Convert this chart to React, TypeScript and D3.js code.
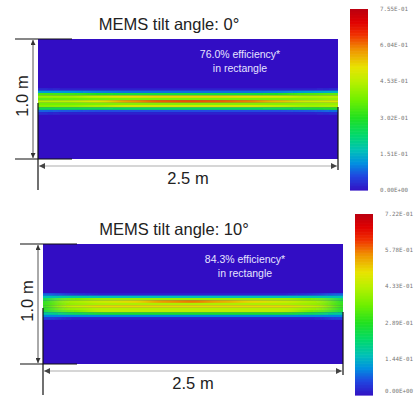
import * as d3 from "d3";

// grid of the light band: column centres along the 2.5 m side, rows by depth from the top edge (m)
const colX = [0, 0.25, 0.5, 0.75, 1.0, 1.25, 1.5, 1.75, 2.0, 2.25, 2.5];
const rowDepth = [0.42, 0.44, 0.46, 0.48, 0.5, 0.52, 0.54, 0.56, 0.58, 0.6, 0.62];

// irradiance, tilt 0°
const band0 = [
  [0.03, 0.02, 0.02, 0.02, 0.02, 0.02, 0.02, 0.02, 0.02, 0.02, 0.03],
  [0.13, 0.12, 0.1, 0.09, 0.09, 0.09, 0.09, 0.09, 0.1, 0.13, 0.15],
  [0.34, 0.33, 0.3, 0.28, 0.28, 0.28, 0.28, 0.28, 0.3, 0.34, 0.36],
  [0.42, 0.42, 0.47, 0.52, 0.53, 0.53, 0.53, 0.52, 0.49, 0.44, 0.45],
  [0.36, 0.37, 0.38, 0.39, 0.39, 0.39, 0.39, 0.39, 0.39, 0.4, 0.42],
  [0.45, 0.46, 0.51, 0.58, 0.62, 0.63, 0.62, 0.6, 0.55, 0.48, 0.5],
  [0.38, 0.38, 0.39, 0.4, 0.4, 0.4, 0.4, 0.4, 0.4, 0.41, 0.42],
  [0.4, 0.41, 0.44, 0.49, 0.49, 0.49, 0.49, 0.49, 0.46, 0.43, 0.44],
  [0.26, 0.26, 0.25, 0.24, 0.24, 0.24, 0.24, 0.24, 0.25, 0.28, 0.3],
  [0.08, 0.07, 0.06, 0.06, 0.06, 0.06, 0.06, 0.06, 0.06, 0.07, 0.09],
  [0.03, 0.02, 0.02, 0.02, 0.02, 0.02, 0.02, 0.02, 0.02, 0.02, 0.03],
];

// irradiance, tilt 10°
const band10 = [
  [0.08, 0.04, 0.02, 0.02, 0.02, 0.02, 0.02, 0.02, 0.02, 0.04, 0.08],
  [0.16, 0.18, 0.16, 0.16, 0.16, 0.16, 0.16, 0.16, 0.16, 0.17, 0.16],
  [0.24, 0.36, 0.4, 0.4, 0.4, 0.4, 0.4, 0.4, 0.4, 0.36, 0.24],
  [0.28, 0.42, 0.46, 0.5, 0.56, 0.58, 0.54, 0.5, 0.46, 0.42, 0.28],
  [0.3, 0.4, 0.42, 0.42, 0.42, 0.42, 0.42, 0.42, 0.42, 0.4, 0.3],
  [0.3, 0.45, 0.5, 0.5, 0.5, 0.5, 0.5, 0.5, 0.5, 0.45, 0.3],
  [0.28, 0.4, 0.43, 0.43, 0.43, 0.43, 0.43, 0.43, 0.43, 0.4, 0.28],
  [0.25, 0.36, 0.44, 0.44, 0.44, 0.44, 0.44, 0.44, 0.44, 0.36, 0.26],
  [0.18, 0.24, 0.28, 0.28, 0.28, 0.28, 0.28, 0.28, 0.28, 0.24, 0.18],
  [0.1, 0.1, 0.1, 0.1, 0.1, 0.1, 0.1, 0.1, 0.1, 0.1, 0.1],
  [0.05, 0.02, 0.02, 0.02, 0.02, 0.02, 0.02, 0.02, 0.02, 0.02, 0.05],
];

// colour bar tick values
const ticks0 = [0, 0.151, 0.302, 0.453, 0.604, 0.755];
const ticks10 = [0, 0.144, 0.289, 0.433, 0.578, 0.722];

// rainbow colour map (fraction of max -> colour)
const stopT = [0, 0.08, 0.15, 0.22, 0.3, 0.4, 0.5, 0.6, 0.68, 0.78, 0.86, 0.93, 1];
const stopC = [
  "#3311c4", "#2048e0", "#0090e0", "#00c0b8", "#00d870", "#20e020", "#70f000",
  "#b8f000", "#e8e400", "#f09000", "#f03000", "#e00000", "#bb0010",
];

const fmtE = (v: number) => {
  const [m, e] = v.toExponential(2).split("e");
  const n = +e;
  return `${m}E${n < 0 ? "-" : "+"}${String(Math.abs(n)).padStart(2, "0")}`;
};

const FONT = "Liberation Sans, Arial, sans-serif";

type PanelProps = {
  id: string;
  ox: number;
  oy: number;
  band: number[][];
  ticks: number[];
  title: string;
  eff: string;
};

const Panel = ({ id, ox, oy, band, ticks, title, eff }: PanelProps) => {
  const vmax = d3.max(ticks) as number;
  const x = d3.scaleLinear().domain([0, 2.5]).range([ox, ox + 300]);
  const y = d3.scaleLinear().domain([0, 1]).range([oy, oy + 120]);
  const color = d3
    .scaleLinear<string>()
    .domain(stopT.map((t) => t * vmax))
    .range(stopC)
    .interpolate(d3.interpolateRgb)
    .clamp(true);

  const halfX = (colX[1] - colX[0]) / 2;
  const halfY = (rowDepth[1] - rowDepth[0]) / 2;
  const cells: { x0: number; x1: number; y0: number; y1: number; v: number }[] = [];
  band.forEach((row, ri) =>
    row.forEach((v, ci) => {
      const x0 = ci === 0 ? x(colX[ci]) - 40 : x(colX[ci] - halfX);
      const x1 = ci === row.length - 1 ? x(colX[ci]) + 40 : x(colX[ci] + halfX);
      cells.push({ x0, x1, y0: y(rowDepth[ri] - halfY), y1: y(rowDepth[ri] + halfY), v });
    })
  );

  // colour bar
  const cbX = ox + 312;
  const cbY = d3.scaleLinear().domain([0, vmax]).range([oy + 151, oy - 30]);
  const steps = d3.range(0, 120).map((i) => (i / 120) * vmax);
  const stepH = (cbY(0) - cbY(vmax)) / 120;

  return (
    <g>
      <defs>
        <clipPath id={`clip-${id}`}>
          <rect x={x(0)} y={y(0)} width={x(2.5) - x(0)} height={y(1) - y(0)} />
        </clipPath>
        <filter
          id={`blur-${id}`}
          filterUnits="userSpaceOnUse"
          x={x(0) - 60}
          y={y(0) - 20}
          width={x(2.5) - x(0) + 120}
          height={y(1) - y(0) + 40}
        >
          <feGaussianBlur stdDeviation="9 0.6" />
        </filter>
      </defs>

      <text x={ox + 131} y={oy - 9.5} textAnchor="middle" fontFamily={FONT} fontSize={16.5} fill="#222">
        {title}
      </text>

      <g clipPath={`url(#clip-${id})`}>
        <g filter={`url(#blur-${id})`}>
          <rect
            x={x(0) - 50}
            y={y(0) - 10}
            width={x(2.5) - x(0) + 100}
            height={y(1) - y(0) + 20}
            fill={color(0)}
          />
          {cells.map((c, i) => (
            <rect key={i} x={c.x0} y={c.y0} width={c.x1 - c.x0 + 0.5} height={c.y1 - c.y0 + 0.2} fill={color(c.v)} />
          ))}
        </g>
      </g>

      <text x={ox + 202} y={oy + 19} textAnchor="middle" fontFamily={FONT} fontSize={10.5} fill="#e6e4ff">
        {eff}
      </text>
      <text x={ox + 202} y={oy + 33} textAnchor="middle" fontFamily={FONT} fontSize={10.5} fill="#e6e4ff">
        in rectangle
      </text>

      {/* height dimension */}
      <line x1={ox - 23} x2={ox + 34} y1={y(0)} y2={y(0)} stroke="#111" strokeWidth={1.2} />
      <line x1={ox - 23} x2={ox + 34} y1={y(1)} y2={y(1)} stroke="#111" strokeWidth={1.2} />
      <line
        x1={ox - 5}
        x2={ox - 5}
        y1={y(0) + 1}
        y2={y(1) - 1}
        stroke="#555"
        strokeWidth={1}
        markerStart="url(#arrV)"
        markerEnd="url(#arrV)"
      />
      <text
        transform={`translate(${ox - 10},${oy + 57}) rotate(-90)`}
        textAnchor="middle"
        fontFamily={FONT}
        fontSize={16.5}
        fill="#222"
      >
        1.0 m
      </text>

      {/* width dimension */}
      <line x1={x(0)} x2={x(0)} y1={oy + 64} y2={oy + 151} stroke="#111" strokeWidth={1.2} />
      <line x1={x(2.5)} x2={x(2.5)} y1={oy + 68} y2={oy + 131} stroke="#111" strokeWidth={1.2} />
      <line
        x1={x(0) + 1}
        x2={x(2.5) - 1}
        y1={oy + 127}
        y2={oy + 127}
        stroke="#c8c8c8"
        strokeWidth={1.5}
        markerStart="url(#arrH)"
        markerEnd="url(#arrH)"
      />
      <text x={ox + 150} y={oy + 145} textAnchor="middle" fontFamily={FONT} fontSize={16.5} fill="#222">
        2.5 m
      </text>

      {/* colour bar */}
      {steps.map((v, i) => (
        <rect key={i} x={cbX} y={cbY(v) - stepH} width={18} height={stepH + 0.6} fill={color(v + vmax / 240)} />
      ))}
      {ticks.map((t) => (
        <text
          key={t}
          x={ox + 342}
          y={Math.min(cbY(t), 390.5)}
          dy="0.35em"
          fontFamily="DejaVu Sans Mono, monospace"
          fontSize={5.8}
          fill="#777"
        >
          {fmtE(t)}
        </text>
      ))}
    </g>
  );
};

export default function App() {
  return (
    <svg
      width={414}
      height={396}
      viewBox="0 0 414 396"
      style={{ position: "absolute", left: 0, top: 0, background: "#fff" }}
    >
      <defs>
        <marker id="arrV" viewBox="0 0 10 10" refX="10" refY="5" markerWidth="5" markerHeight="5" orient="auto-start-reverse">
          <path d="M0,0 L10,5 L0,10 z" fill="#333" />
        </marker>
        <marker id="arrH" viewBox="0 0 10 10" refX="10" refY="5" markerWidth="4" markerHeight="4" orient="auto-start-reverse">
          <path d="M0,0 L10,5 L0,10 z" fill="#444" />
        </marker>
      </defs>
      <Panel id="t0" ox={38} oy={39} band={band0} ticks={ticks0} title="MEMS tilt angle: 0°" eff="76.0% efficiency*" />
      <Panel id="t10" ox={43} oy={244} band={band10} ticks={ticks10} title="MEMS tilt angle: 10°" eff="84.3% efficiency*" />
    </svg>
  );
}
